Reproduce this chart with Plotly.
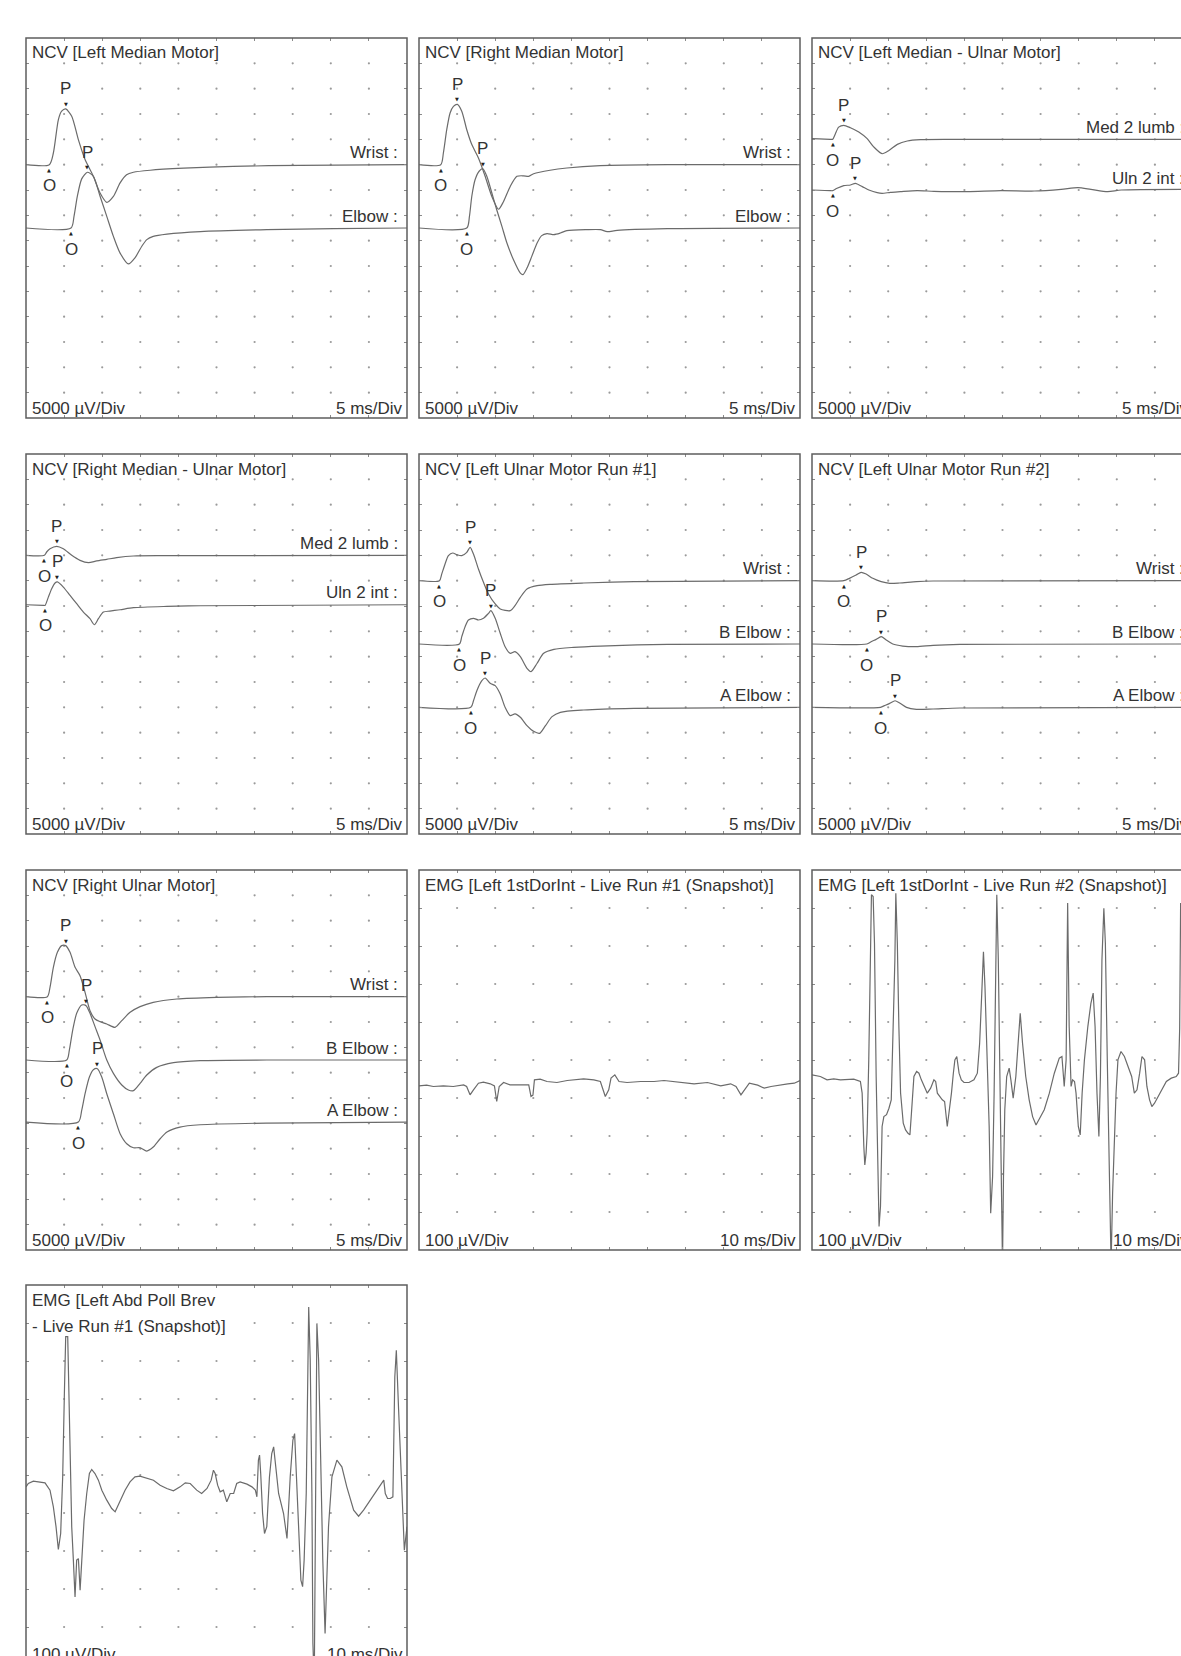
import plotly.graph_objects as go

W, H = 1181, 1656
PANEL_W, PANEL_H = 381, 380
COL_X = [26, 419, 812]
ROW_Y = [38, 454, 870, 1285]
FONT = "Liberation Sans, Arial, Helvetica, sans-serif"
TXT = "#333333"
TRACE = "#6b6b6b"
BORDER = "#5e5e5e"
DOT = "#9a9a9a"
FS = 17

# ---------------- DATA (time in ms, NCV amplitude in mV, EMG in µV) ----------------
# Panel 1: NCV [Left Median Motor]
lmm_wrist_t = [0, 3.06, 3.59, 4.25, 4.68, 5.21, 6.0, 6.87, 7.75, 8.84, 9.72, 10.6, 11.47, 12.35, 13.2, 14.1, 16.3, 20.7, 27.2, 36.0, 50]
lmm_wrist_mv = [0, 0, 2.3, 8.9, 10.55, 11.0, 9.56, 4.95, 1.0, -2.3, -5.6, -7.45, -6.27, -3.6, -2.0, -1.5, -1.1, -0.7, -0.33, -0.13, 0]
lmm_elbow_t = [0, 5.91, 6.3, 6.74, 7.31, 8.06, 8.84, 9.72, 10.6, 11.47, 12.35, 13.44, 14.3, 15.2, 15.85, 16.7, 18.5, 22.9, 31.6, 40.4, 50]
lmm_elbow_mv = [0, 0, 2.3, 6.27, 9.7, 11.0, 10.2, 6.27, 2.3, -1.65, -4.95, -7.1, -5.9, -3.6, -2.3, -1.65, -1.2, -0.7, -0.33, -0.13, 0]
lmm_labels = ["Wrist", "Elbow"]
lmm_offsets_div = [5.0, 7.5]
lmm_onset_ms = [3.06, 5.91]
lmm_peak_ms = [5.21, 8.06]
lmm_peak_mv = [11.0, 11.0]

# Panel 2: NCV [Right Median Motor]
rmm_wrist_t = [0, 2.85, 3.2, 3.64, 4.08, 4.52, 5.04, 5.61, 6.27, 6.93, 7.8, 8.68, 9.56, 10.44, 11.1, 11.97, 12.85, 13.73, 14.4, 15.04, 17.2, 19.4, 23.8, 32.6, 50]
rmm_wrist_mv = [0, 0, 2.3, 6.9, 10.2, 11.5, 11.9, 10.55, 6.9, 3.96, 1.3, -2.3, -6.27, -8.8, -7.26, -4.3, -2.3, -2.2, -2.3, -1.8, -1.1, -0.66, -0.2, 0, 0]
rmm_elbow_t = [0, 6.27, 6.62, 6.93, 7.37, 7.89, 8.38, 8.9, 9.56, 10.2, 10.88, 11.54, 12.4, 13.3, 13.64, 14.17, 14.8, 15.5, 16.1, 16.8, 17.7, 18.55, 19.4, 22.06, 23.8, 24.7, 26.0, 32.6, 50]
rmm_elbow_mv = [0, 0, 2.3, 6.27, 9.56, 11.2, 11.7, 10.2, 6.9, 3.6, 0.33, -2.97, -6.27, -8.9, -9.2, -7.9, -5.6, -2.97, -1.5, -1.1, -1.3, -0.99, -0.53, -0.33, -0.33, -0.73, -0.46, -0.13, 0]
rmm_labels = ["Wrist", "Elbow"]
rmm_offsets_div = [5.0, 7.5]
rmm_onset_ms = [2.85, 6.27]
rmm_peak_ms = [5.04, 8.38]
rmm_peak_mv = [11.9, 11.7]

# Panel 3: NCV [Left Median - Ulnar Motor]
lmu_med_t = [0, 2.4, 2.72, 3.07, 3.5, 4.17, 5.04, 6.14, 7.24, 8.1, 9.2, 10.1, 11.2, 12.5, 14.25, 18.2, 50]
lmu_med_mv = [0.13, 0, 0, 1.1, 2.4, 2.77, 2.3, 1.45, 0.13, -1.5, -2.84, -2.2, -0.99, -0.33, -0.07, 0, 0]
lmu_uln_t = [0, 2.4, 2.72, 3.29, 4.17, 5.04, 5.7, 6.6, 7.46, 8.55, 9.2, 10.3, 11.6, 13.8, 16.0, 20.4, 24.8, 29.2, 32.7, 34.9, 36.6, 38.8, 40.6, 50]
lmu_uln_mv = [0, -0.13, -0.13, 0.33, 0.86, 0.99, 1.3, 0.66, 0, -0.53, -0.66, -0.46, -0.33, -0.13, -0.26, -0.33, -0.13, -0.2, 0.13, 0.46, 0.13, -0.33, 0, 0.13]
lmu_labels = ["Med 2 lumb", "Uln 2 int"]
lmu_offsets_div = [4.0, 6.0]
lmu_onset_ms = [2.72, 2.72]
lmu_peak_ms = [4.17, 5.7]
lmu_peak_mv = [2.77, 1.3]

# Panel 4: NCV [Right Median - Ulnar Motor]
rmu_med_t = [0, 2.41, 2.71, 3.15, 4.03, 4.9, 6.0, 7.09, 8.19, 9.28, 10.6, 11.9, 14.1, 18.5, 50]
rmu_med_mv = [0, 0, 0.66, 1.3, 1.78, 1.3, 0, -0.99, -1.45, -1.1, -0.79, -0.46, -0.13, -0.07, 0]
rmu_uln_t = [0, 2.28, 2.5, 2.93, 3.37, 3.81, 4.12, 4.9, 5.78, 6.65, 7.53, 8.4, 8.98, 9.5, 10.16, 11.0, 12.35, 14.1, 18.5, 22.9, 50]
rmu_uln_mv = [0, -0.13, -0.13, 1.5, 3.16, 4.28, 4.5, 3.49, 1.84, 0.2, -1.45, -2.76, -3.95, -2.76, -1.45, -1.25, -0.99, -0.59, -0.33, -0.2, 0]
rmu_labels = ["Med 2 lumb", "Uln 2 int"]
rmu_offsets_div = [4.0, 5.95]
rmu_onset_ms = [2.41, 2.5]
rmu_peak_ms = [4.03, 4.12]
rmu_peak_mv = [1.78, 4.5]

# Panel 5: NCV [Left Ulnar Motor Run #1]
lu1_wrist_t = [0, 2.68, 2.98, 3.42, 3.86, 4.43, 4.96, 5.61, 6.27, 6.71, 7.15, 7.8, 8.46, 9.12, 10.0, 10.66, 11.97, 12.6, 13.3, 14.17, 15.5, 17.2, 21.6, 28.2, 50]
lu1_wrist_mv = [0, 0, 1.3, 3.3, 4.93, 5.46, 5.13, 4.93, 5.59, 6.58, 5.26, 2.3, -0.33, -2.63, -4.6, -5.59, -5.92, -4.93, -3.29, -1.64, -0.99, -0.72, -0.46, -0.2, 0]
lu1_belbow_t = [0, 5.31, 5.61, 6.05, 6.49, 7.15, 7.8, 8.46, 9.12, 9.43, 10.0, 10.66, 11.3, 11.97, 12.6, 13.3, 14.17, 14.7, 15.5, 16.36, 17.7, 20.3, 23.8, 32.6, 50]
lu1_belbow_mv = [0, 0, 1.45, 3.42, 4.74, 5.07, 4.74, 5.07, 6.05, 6.58, 5.07, 2.11, -0.53, -1.84, -1.5, -2.5, -4.8, -5.46, -3.8, -1.84, -1.05, -0.66, -0.4, -0.07, 0]
lu1_aelbow_t = [0, 6.8, 7.15, 7.59, 8.25, 8.68, 9.34, 10.0, 10.66, 11.3, 11.97, 12.6, 13.3, 14.17, 15.04, 15.83, 16.6, 17.46, 18.55, 21.6, 28.2, 50]
lu1_aelbow_mv = [0, 0, 1.3, 3.29, 5.26, 5.79, 4.74, 4.28, 2.63, 0, -1.64, -1.3, -1.97, -3.62, -4.74, -5.13, -3.62, -1.84, -0.99, -0.53, -0.2, 0]
lu1_labels = ["Wrist", "B Elbow", "A Elbow"]
lu1_offsets_div = [5.0, 7.5, 10.0]
lu1_onset_ms = [2.68, 5.31, 6.8]
lu1_peak_ms = [6.71, 9.43, 8.68]
lu1_peak_mv = [6.58, 6.58, 5.79]

# Panel 6: NCV [Left Ulnar Motor Run #2]
lu2_wrist_t = [0, 4.17, 4.91, 5.79, 6.45, 7.1, 7.98, 9.08, 10.2, 11.5, 13.7, 15.9, 50]
lu2_wrist_mv = [0, 0, 0.46, 1.1, 1.64, 1.3, 0.46, -0.2, -0.53, -0.46, -0.2, -0.07, 0]
lu2_belbow_t = [0, 7.19, 7.76, 8.42, 9.08, 9.74, 10.6, 11.9, 13.7, 15.9, 19.4, 50]
lu2_belbow_mv = [0, 0, 0.46, 0.92, 1.45, 0.79, 0, -0.4, -0.53, -0.26, -0.07, 0]
lu2_aelbow_t = [0, 8.99, 9.5, 10.2, 10.9, 11.5, 12.4, 13.7, 15.9, 19.4, 50]
lu2_aelbow_mv = [0, 0, 0.33, 0.79, 1.3, 0.86, 0, -0.4, -0.33, -0.13, 0]
lu2_labels = ["Wrist", "B Elbow", "A Elbow"]
lu2_offsets_div = [5.0, 7.5, 10.0]
lu2_onset_ms = [4.17, 7.19, 8.99]
lu2_peak_ms = [6.45, 9.08, 10.9]
lu2_peak_mv = [1.64, 1.45, 1.3]

# Panel 7: NCV [Right Ulnar Motor]
ru_wrist_t = [0, 2.8, 3.15, 3.59, 4.12, 4.68, 5.21, 5.78, 6.44, 7.09, 7.75, 8.4, 9.06, 9.72, 10.6, 11.69, 12.57, 13.66, 14.97, 16.7, 19.8, 25.0, 31.6, 50]
ru_wrist_mv = [0, 0, 1.84, 5.79, 8.75, 10.07, 10.07, 8.75, 5.79, 4.14, 0.86, -2.76, -4.41, -4.93, -5.39, -6.05, -4.74, -3.09, -1.97, -1.12, -0.46, -0.13, 0, 0]
ru_belbow_t = [0, 5.34, 5.69, 6.13, 6.65, 7.31, 7.88, 8.4, 9.06, 9.72, 10.6, 11.47, 12.57, 13.44, 14.1, 14.97, 15.85, 17.16, 19.35, 22.85, 31.6, 50]
ru_belbow_mv = [0, 0, 1.97, 5.92, 9.21, 10.86, 10.72, 9.21, 6.58, 3.95, 0, -2.63, -4.93, -5.92, -6.05, -4.61, -2.96, -1.45, -0.53, -0.13, 0, 0]
ru_aelbow_t = [0, 6.87, 7.31, 7.75, 8.32, 8.84, 9.37, 9.94, 10.6, 11.47, 12.35, 13.22, 14.1, 14.97, 15.85, 16.7, 17.6, 18.5, 20.2, 22.85, 31.6, 50]
ru_aelbow_mv = [0, 0, 2.3, 5.59, 8.88, 10.33, 10.53, 8.88, 5.59, 1.64, -2.3, -4.28, -5.07, -5.07, -5.72, -4.93, -3.29, -1.97, -0.99, -0.53, -0.2, 0]
ru_labels = ["Wrist", "B Elbow", "A Elbow"]
ru_offsets_div = [5.0, 7.5, 9.95]
ru_onset_ms = [2.8, 5.34, 6.87]
ru_peak_ms = [5.21, 7.88, 9.37]
ru_peak_mv = [10.07, 10.72, 10.53]

# Panel 8: EMG [Left 1stDorInt - Live Run #1 (Snapshot)]
emg1_t = [0, 2.0, 3.77, 6.4, 9.0, 11.7, 12.5, 13.4, 14.3, 15.6, 16.9, 18.7, 19.8, 20.4, 21.05, 22.2, 23.9, 26.6, 28.8, 29.4,
          29.9, 30.3, 31.8, 33.6, 36.2, 38.9, 41.5, 43.2, 45.9, 47.6, 48.9, 49.8, 50.4, 51.4, 52.5, 54.6, 58.2, 61.7, 64.3, 66.9,
          69.6, 72.2, 75.7, 79.2, 81.8, 83.2, 84.5, 85.4, 86.7, 88.9, 90.6, 92.4, 94.1, 96.8, 98.5, 100]
emg1_uv = [0, 1.7, -1.7, 0, -1.7, 2.6, -1.7, -23.7, -10.5, 7.0, 9.6, 5.3, 0, -41.2, -1.7, 8.8, 2.6, 1.7, 2.6, -28.1,
           -24.6, 15.8, 17.5, 11.4, 8.8, 14.0, 15.8, 18.4, 15.8, 11.4, -28.1, -10.5, 20.2, 28.9, 11.4, 8.8, 11.4, 11.4, 14.0, 11.4,
           8.8, 5.3, 8.8, 0, 5.3, -1.7, -23.7, -10.5, 7.0, 1.7, -6.1, -1.7, 1.7, 5.3, 7.0, 14.0]
emg1_offset_div = 5.68

# Panel 9: EMG [Left 1stDorInt - Live Run #2 (Snapshot)]
emg2_t = [0, 2.19, 3.95, 5.7, 7.46, 9.21, 10.96, 12.7, 13.16, 13.6,
          13.86, 14.2, 14.47, 14.9, 15.35, 15.6, 16.05, 16.4, 16.84, 17.28,
          17.6, 17.98, 18.4, 18.86, 19.56, 20.2, 20.8, 21.3, 21.75, 22.0,
          22.4, 22.8, 23.25, 23.95, 24.56, 25.2, 25.7, 26.1, 26.75, 27.46,
          28.07, 28.7, 29.4, 30.26, 31.14, 32.0, 32.46, 32.9, 34.2, 34.8,
          35.5, 35.96, 36.6, 37.1, 37.5, 38.0, 38.6, 39.2, 39.9, 41.2,
          42.5, 43.4, 44.0, 44.56, 45.0, 45.4, 45.9, 46.5, 46.9, 47.4,
          47.8, 48.2, 48.5, 48.9, 49.3, 49.7, 50.0, 50.26, 50.6, 51.1,
          51.75, 52.2, 52.8, 53.5, 54.1, 54.65, 55.26, 56.1, 57.0, 57.9,
          58.8, 59.6, 60.96, 62.3, 63.6, 64.9, 65.6, 66.2, 66.7, 67.1,
          67.5, 68.0, 68.4, 68.9, 69.3, 69.9, 70.4, 70.9, 71.5, 72.4,
          73.2, 73.8, 74.3, 74.8, 75.3, 75.7, 76.1, 76.6, 77.0, 77.5,
          78.1, 78.5, 78.9, 79.4, 79.8, 80.3, 81.1, 82.0, 82.9, 83.9,
          84.6, 85.3, 86.0, 86.6, 87.3, 87.9, 88.6, 89.2, 89.9, 90.8,
          91.7, 93.0, 94.3, 95.6, 96.2, 96.5, 96.75]
emg2_uv = [28.9, 24.6, 15.8, 18.4, 15.8, 17.5, 17.5, 11.4, -19.3, -159,
           -208, -177, -125, 69, 331, 503, 498, 375, 24.6, -195,
           -370, -317, -107, -81, -76, -59, -37, 156, 331, 507,
           375, 156, -19, -98, -116, -125, -129, -72, 24.6, 37.7,
           33.3, 15.8, -1.7, -19.3, -6.1, 15.8, 11.4, -19.3, -36.8, -41.2,
           -107, -72, -19.3, 33.3, 68.4, 77.2, 33.3, 15.8, 8.8, 8.8,
           15.8, 33.3, 112, 244, 353, 261, 112, -107, -335, -239,
           -19.3, 244, 503, 331, -19.3, -283, -470, -239, -63, 24.6,
           46.5, 15.8, -32.5, 24.6, 103, 191, 112, 24.6, -36.8, -81,
           -103, -89, -63, -19.3, 33.3, 72.8, 77.2, -1.7, 68.4, 481,
           156, -1.7, 15.8, 11.4, -19.3, -107, -129, -19.3, 68.4, 156,
           217, 244, 156, -19.3, -133, 24.6, 331, 467, 375, 68.4,
           -195, -470, -283, -133, -19.3, 68.4, 90.4, 77.2, 50.9, 24.6,
           -19.3, -10.5, 33.3, 77.2, 68.4, -1.7, -36.8, -54.4, -45.6, -28.1,
           -10.5, 11.4, 20.2, 24.6, 33.3, 150, 481]
emg2_offset_div = 5.68

# Panel 10: EMG [Left Abd Poll Brev - Live Run #1 (Snapshot)]
emg3_t = [0, 0.61, 1.93, 3.68, 4.99, 6.3, 7.18, 7.88, 8.49, 9.1,
          9.63, 10.07, 10.42, 10.95, 11.3, 11.56, 12.0, 12.43, 12.87, 13.3,
          13.75, 14.2, 14.6, 15.24, 15.94, 16.64, 17.25, 18.1, 19.0, 19.9,
          21.2, 22.5, 23.4, 24.7, 26.0, 27.3, 28.6, 29.9, 31.7, 33.45,
          35.2, 36.95, 38.7, 40.45, 41.8, 43.1, 44.8, 46.1, 47.5, 48.6,
          49.2, 49.65, 50.3, 50.96, 51.8, 52.7, 53.6, 54.5, 55.3, 56.2,
          58.0, 59.3, 60.2, 60.6, 61.0, 61.3, 61.6, 62.1, 62.6, 63.2,
          63.9, 64.5, 65.0, 65.4, 66.3, 67.6, 68.5, 69.35, 70.05, 70.5,
          70.9, 71.5, 72.15, 72.6, 73.0, 73.55, 73.9, 74.2, 74.6, 75.04,
          75.3, 75.66, 75.8, 76.1, 76.35, 76.8, 77.2, 77.9, 78.5, 79.4,
          80.3, 81.6, 82.9, 84.2, 86.0, 87.3, 88.6, 90.4, 92.1, 93.4,
          93.9, 94.3, 94.9, 95.6, 96.3, 96.8, 97.2, 97.8, 98.7, 99.3, 100]
emg3_uv = [-13.2, -4.4, 1.8, 0, -2.6, -21.9, -65.8, -118, -178, -136,
           13.2, 232, 382, 382, 232, 57, -118, -206, -303, -206,
           -202, -285, -206, -101, -30.7, 21.9, 32.5, 21.9, 4.4, -21.9,
           -48.2, -70.2, -78.9, -48.2, -21.9, 0, 13.2, 14.9, 8.8, 4.4,
           -8.8, -17.5, -23.7, -13.2, -2.6, -4.4, -21.9, -30.7, -17.5, 4.4,
           30.7, 21.9, -8.8, -26.3, -21.9, -52.6, -30.7, -30.7, -4.4, 0,
           -6.1, -13.2, -21.9, -39.5, 57, 70.2, 21.9, -83.3, -136, -118,
           13.2, 74.6, 92.1, 57, -30.7, -83.3, -149, 13.2, 110, 127,
           39.5, -118, -259, -276, -206, -30.7, 232, 460, 320, -30.7,
           -425, -530, -338, 232, 417, 320, 101, -206, -399, -118,
           13.2, 57, 39.5, -13.2, -74.6, -90.4, -74.6, -48.2, -21.9, -2.6,
           4.4, -30.7, -43.9, -43.9, -39.5, 276, 346, 189, -30.7, -180, -118]
emg3_offset_div = 5.18

# ---------------- PANEL CONFIG ----------------
def ncv(title, traces, labels, offsets, onset, peak, peak_amp):
    return dict(title=title, xdiv=5, ydiv=5, ny=15, amp="5000 µV/Div", time="5 ms/Div",
                smooth=True, traces=traces, labels=labels, offsets=offsets,
                onset=onset, peak=peak, peak_amp=peak_amp)

def emg(title, t, v, off):
    return dict(title=title, xdiv=10, ydiv=100, ny=10, amp="100 µV/Div", time="10 ms/Div",
                smooth=False, traces=[(t, v)], labels=None, offsets=[off])

panels = [
    ncv(["NCV [Left Median Motor]"], [(lmm_wrist_t, lmm_wrist_mv), (lmm_elbow_t, lmm_elbow_mv)],
        lmm_labels, lmm_offsets_div, lmm_onset_ms, lmm_peak_ms, lmm_peak_mv),
    ncv(["NCV [Right Median Motor]"], [(rmm_wrist_t, rmm_wrist_mv), (rmm_elbow_t, rmm_elbow_mv)],
        rmm_labels, rmm_offsets_div, rmm_onset_ms, rmm_peak_ms, rmm_peak_mv),
    ncv(["NCV [Left Median - Ulnar Motor]"], [(lmu_med_t, lmu_med_mv), (lmu_uln_t, lmu_uln_mv)],
        lmu_labels, lmu_offsets_div, lmu_onset_ms, lmu_peak_ms, lmu_peak_mv),
    ncv(["NCV [Right Median - Ulnar Motor]"], [(rmu_med_t, rmu_med_mv), (rmu_uln_t, rmu_uln_mv)],
        rmu_labels, rmu_offsets_div, rmu_onset_ms, rmu_peak_ms, rmu_peak_mv),
    ncv(["NCV [Left Ulnar Motor Run #1]"], [(lu1_wrist_t, lu1_wrist_mv), (lu1_belbow_t, lu1_belbow_mv), (lu1_aelbow_t, lu1_aelbow_mv)],
        lu1_labels, lu1_offsets_div, lu1_onset_ms, lu1_peak_ms, lu1_peak_mv),
    ncv(["NCV [Left Ulnar Motor Run #2]"], [(lu2_wrist_t, lu2_wrist_mv), (lu2_belbow_t, lu2_belbow_mv), (lu2_aelbow_t, lu2_aelbow_mv)],
        lu2_labels, lu2_offsets_div, lu2_onset_ms, lu2_peak_ms, lu2_peak_mv),
    ncv(["NCV [Right Ulnar Motor]"], [(ru_wrist_t, ru_wrist_mv), (ru_belbow_t, ru_belbow_mv), (ru_aelbow_t, ru_aelbow_mv)],
        ru_labels, ru_offsets_div, ru_onset_ms, ru_peak_ms, ru_peak_mv),
    emg(["EMG [Left 1stDorInt - Live Run #1 (Snapshot)]"], emg1_t, emg1_uv, emg1_offset_div),
    emg(["EMG [Left 1stDorInt - Live Run #2 (Snapshot)]"], emg2_t, emg2_uv, emg2_offset_div),
    emg(["EMG [Left Abd Poll Brev", "- Live Run #1 (Snapshot)]"], emg3_t, emg3_uv, emg3_offset_div),
]

# ---------------- BUILD FIGURE ----------------
fig = go.Figure()
annotations, shapes, axes = [], [], {}

def txt(size=FS, color=TXT, family=FONT):
    return dict(size=size, color=color, family=family)

for i, p in enumerate(panels):
    r, c = divmod(i, 3)
    x0px, y0px = COL_X[c], ROW_Y[r]
    x1px, y1px = x0px + PANEL_W, y0px + PANEL_H
    vx1, vy1 = min(x1px, W), min(y1px, H)
    xdiv, ydiv, ny = p["xdiv"], p["ydiv"], p["ny"]
    xspan, yspan = xdiv * 10, ydiv * ny
    xr = [0, xspan * (vx1 - x0px) / PANEL_W]
    yr = [-yspan * (vy1 - y0px) / PANEL_H, 0]
    n = "" if i == 0 else str(i + 1)
    xa, ya = "x" + n, "y" + n
    axes["xaxis" + n] = dict(domain=[x0px / W, vx1 / W], range=xr, showgrid=False, zeroline=False,
                             showticklabels=False, showline=False, ticks="inside", ticklen=3,
                             tickwidth=1, tickcolor="#8a8a8a",
                             tickvals=[k * xdiv for k in range(1, 10)],
                             mirror="ticks" if r < 3 else False,
                             side="top" if r == 3 else "bottom", anchor=ya, fixedrange=True)
    axes["yaxis" + n] = dict(domain=[1 - vy1 / H, 1 - y0px / H], range=yr, showgrid=False, zeroline=False,
                             showticklabels=False, showline=False, ticks="inside", ticklen=3,
                             tickwidth=1, tickcolor="#8a8a8a",
                             tickvals=[-j * ydiv for j in range(1, ny)],
                             mirror="ticks" if c < 2 else False, anchor=xa, fixedrange=True)
    # grid dots
    gx = [k * xdiv for k in range(1, 10) for j in range(1, ny)]
    gy = [-j * ydiv for k in range(1, 10) for j in range(1, ny)]
    fig.add_trace(go.Scatter(x=gx, y=gy, mode="markers", xaxis=xa, yaxis=ya, hoverinfo="skip",
                             marker=dict(size=2.2, color=DOT), showlegend=False))
    # traces
    for (t, a), off in zip(p["traces"], p["offsets"]):
        base = -off * ydiv
        fig.add_trace(go.Scatter(x=t, y=[v + base for v in a], mode="lines", xaxis=xa, yaxis=ya,
                                 line=dict(color=TRACE, width=1.2,
                                           shape="spline" if p["smooth"] else "linear",
                                           smoothing=0.7 if p["smooth"] else None),
                                 hoverinfo="skip", showlegend=False))
    # border
    shapes.append(dict(type="rect", xref="paper", yref="paper", x0=x0px / W, x1=x1px / W,
                       y0=1 - y1px / H, y1=1 - y0px / H, line=dict(color=BORDER, width=1.5), layer="above"))
    # title
    for li, line in enumerate(p["title"]):
        annotations.append(dict(xref="paper", yref="paper", x=x0px / W, y=1 - y0px / H, xanchor="left",
                                yanchor="middle", xshift=4, yshift=-15 - 26 * li, text=line,
                                showarrow=False, font=txt()))
    # bottom scale labels
    annotations.append(dict(xref="paper", yref="paper", x=x0px / W, y=1 - y1px / H, xanchor="left",
                            yanchor="middle", xshift=4, yshift=10, text=p["amp"], showarrow=False, font=txt()))
    annotations.append(dict(xref="paper", yref="paper", x=x1px / W, y=1 - y1px / H, xanchor="right",
                            yanchor="middle", xshift=-2, yshift=10, text=p["time"], showarrow=False, font=txt()))
    # NCV labels & markers
    if p["labels"]:
        for lab, off, on, pk, pa in zip(p["labels"], p["offsets"], p["onset"], p["peak"], p["peak_amp"]):
            base = -off * ydiv
            annotations.append(dict(xref="paper", yref=ya, x=x1px / W, y=base, xanchor="right",
                                    yanchor="middle", xshift=-7, yshift=12, text=lab + " :",
                                    showarrow=False, font=txt()))
            annotations.append(dict(xref=xa, yref=ya, x=on, y=base, text="O", showarrow=False,
                                    yanchor="middle", yshift=-21, font=txt()))
            annotations.append(dict(xref=xa, yref=ya, x=on, y=base, text="▲", showarrow=False,
                                    yanchor="middle", yshift=-5, font=txt(5, "#222", "DejaVu Sans")))
            annotations.append(dict(xref=xa, yref=ya, x=pk, y=base + pa, text="P", showarrow=False,
                                    yanchor="middle", yshift=20, font=txt()))
            annotations.append(dict(xref=xa, yref=ya, x=pk, y=base + pa, text="▼", showarrow=False,
                                    yanchor="middle", yshift=5, font=txt(5, "#222", "DejaVu Sans")))

fig.update_layout(width=W, height=H, margin=dict(l=0, r=0, t=0, b=0, pad=0),
                  paper_bgcolor="white", plot_bgcolor="white", showlegend=False,
                  annotations=annotations, shapes=shapes, font=dict(family=FONT, color=TXT), **axes)

fig.write_html("out.html", config={"displayModeBar": False, "staticPlot": True},
               post_script="document.body.style.margin='0';document.body.style.overflow='hidden';")
